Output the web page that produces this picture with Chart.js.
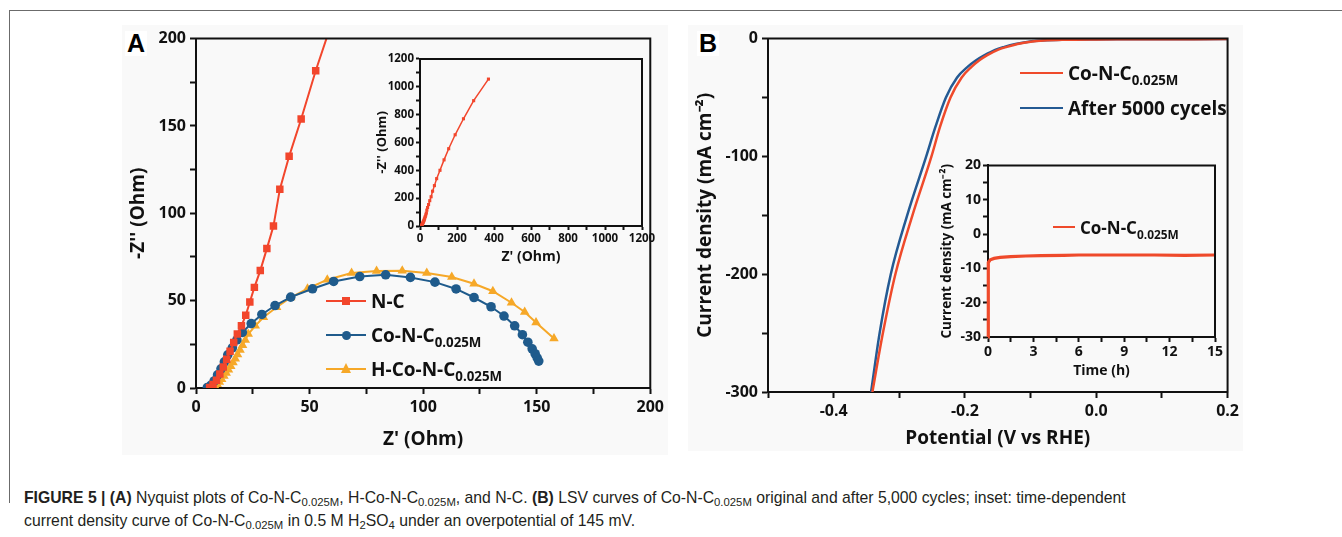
<!DOCTYPE html>
<html><head><meta charset="utf-8">
<script src="https://cdn.jsdelivr.net/npm/chart.js@4.4.1/dist/chart.umd.min.js"></script>
<style>
html,body{margin:0;padding:0;background:#fff;}
body{width:1342px;height:537px;position:relative;overflow:hidden;font-family:'Open Sans',sans-serif;}
.abs{position:absolute;}
canvas{position:absolute;}
.frameT{left:9px;top:10px;width:1333px;height:0;border-top:1.5px solid #6b6b6b;}
.frameL{left:9px;top:10px;width:0;height:493px;border-left:1.5px solid #6b6b6b;}
.panel{background:#f9f9f9;}
.lbl{font-family:'Liberation Sans',Arial,sans-serif;font-weight:bold;font-size:25px;color:#000;line-height:1;}
.row{position:absolute;height:0;display:flex;align-items:center;white-space:nowrap;}
.row .txt{font-weight:bold;color:#111;line-height:1;}
.row .txt sub{font-size:0.7em;vertical-align:-0.4em;line-height:0;}
.sym{position:relative;height:0;}
.sym .ln{position:absolute;left:0;top:-1px;height:2px;width:100%;}
.sym .mk{position:absolute;}
#cap{left:24px;top:486px;font-family:'Liberation Sans',Arial,sans-serif;font-size:15.75px;line-height:23px;color:#231f20;white-space:nowrap;}
#cap sub{font-size:0.72em;vertical-align:-0.25em;line-height:0;}
</style>
</head>
<body>
<div class="abs frameT"></div>
<div class="abs frameL"></div>
<div class="abs panel" style="left:122px;top:25px;width:546px;height:430px;"></div>
<div class="abs panel" style="left:688px;top:25px;width:555px;height:426px;"></div>
<div class="abs lbl" style="left:125px;top:31px;background:#fff;padding:0 2px;">A</div>
<div class="abs lbl" style="left:697px;top:31px;background:#fff;padding:0 2px;">B</div>

<canvas id="cA"></canvas>
<canvas id="cAi"></canvas>
<canvas id="cB"></canvas>
<canvas id="cBi"></canvas>

<div id="legA"></div>
<div id="legB"></div>

<div id="cap" class="abs"><b>FIGURE 5 | (A)</b> Nyquist plots of Co-N-C<sub>0.025M</sub>, H-Co-N-C<sub>0.025M</sub>, and N-C. <b>(B)</b> LSV curves of Co-N-C<sub>0.025M</sub> original and after 5,000 cycles; inset: time-dependent<br>current density curve of Co-N-C<sub>0.025M</sub> in 0.5 M H<sub>2</sub>SO<sub>4</sub> under an overpotential of 145 mV.</div>

<script>
// ---------------- DATA ----------------
// Panel A: Nyquist plots (Z' / -Z'' in Ohm)
const ncZre  = [6,7.5,9,10.5,12,13.5,15,16.6,18.2,20,21.9,23.7,25.7,28.3,31.2,34.1,36.9,41,46.3,52.7,60,68,78,90,108,130,155,190,235,290,370];
const ncZim  = [0.3,2,4.5,8,12,16.5,21,26,30.9,35.6,41.6,49.2,57.6,67.2,79.8,92.7,113.7,132.6,154,181.6,210,250,290,340,400,475,555,655,770,900,1055];
const coZre  = [5,6.5,8,9.5,11,12.5,14,16,18,20.4,24.3,29,34.8,41.7,51.3,60.6,72.1,83.5,94.4,105.2,114.5,122.4,129.9,135.6,140.3,143.7,146.1,148,149.3,150.2,150.9];
const coZim  = [0.3,1.5,4,7.5,11,15,19,23,27.5,31.8,36.9,42.1,47.2,52,56.8,61,63.8,64.8,63.3,60.6,56.7,51.8,46.5,41.2,35.6,30.5,26.2,22.4,19.6,17.3,15.4];
const hcoZre = [5.5,7,8.3,9.3,10.3,11.3,12.3,13.3,14.3,15.3,16.3,17.3,18.3,19.4,20.5,21.7,23,26.1,29.7,35.5,41.7,49.1,57.8,68.5,79.5,90.8,101.6,112.6,122.4,130.7,138.9,144.7,149.7,157.6];
const hcoZim = [0.3,0.6,1.2,2.2,3.5,5,6.8,8.6,10.5,12.5,14.6,16.8,19.2,21.8,24.5,27.5,30.9,35.6,40.5,46.2,51.8,56.8,62,65.8,67,67.1,65.8,63.5,59.7,55.4,48.8,43.5,37.5,28.4];
const seriesA = ['N-C', 'Co-N-C<sub>0.025M</sub>', 'H-Co-N-C<sub>0.025M</sub>'];

// Panel B: LSV curves (V vs RHE / mA cm-2)
const lsvV  = [-0.341,-0.325,-0.306,-0.280,-0.251,-0.238,-0.222,-0.205,-0.190,-0.178,-0.166,-0.150,-0.136,-0.120,-0.100,-0.080,-0.050,0.0,0.05,0.10,0.15,0.20];
const lsvJ  = [-300,-250,-200,-150,-100,-75,-50,-33,-24,-18.4,-14,-9.5,-7,-4.6,-2.6,-1.6,-1.0,-0.7,-0.6,-0.5,-0.45,-0.4];
const cycV  = [-0.343,-0.330,-0.313,-0.288,-0.259,-0.245,-0.229,-0.212,-0.196,-0.183,-0.170,-0.154,-0.140,-0.123,-0.103,-0.082,-0.050,0.0,0.05,0.10,0.15,0.20];
const cycJ  = [-300,-250,-200,-150,-100,-75,-50,-33,-24,-18.4,-14,-9.5,-7,-4.6,-2.6,-1.6,-1.0,-0.7,-0.6,-0.5,-0.45,-0.4];
const seriesB = ['Co-N-C<sub>0.025M</sub>', 'After 5000 cycels'];

// Inset B: chronoamperometry (h / mA cm-2)
const timeH = [0,0.02,0.15,0.4,0.8,1.5,2.5,3.5,5,6,7,9,11,13,15];
const stabJ = [-30,-8.3,-7.5,-7.1,-6.8,-6.6,-6.4,-6.3,-6.2,-6.1,-6.1,-6.1,-6.1,-6.2,-6.1];

// Tick labels
const aXLabels  = ['0','50','100','150','200'];
const aYLabels  = ['0','50','100','150','200'];
const aiLabels  = ['0','200','400','600','800','1000','1200'];
const bXLabels  = ['-0.4','-0.2','0.0','0.2'];
const bYLabels  = ['-300','-200','-100','0'];
const biXLabels = ['0','3','6','9','12','15'];
const biYLabels = ['-30','-20','-10','0','10','20'];

// ---------------- HELPERS ----------------
Chart.defaults.font.family = "'Open Sans', sans-serif";
Chart.defaults.font.weight = 'bold';
const INK = '#111';
const C_RED = '#f2462c', C_BLUE = '#1f5b8c', C_YEL = '#f6a828', C_LRED = '#ef4a2b', C_LBLUE = '#245a93';
const strip = s => s.replace(/<[^>]+>/g,'');
const pts = (xs, ys) => xs.map((x,i)=>({x, y:ys[i]}));
const fmtInt = v => String(Math.round(v));
const fmt1 = v => (Math.round(v*10)/10).toFixed(1);
const fmtG = v => String(Math.round(v*10)/10);

const framePlugin = {id:'frame', afterDraw(c){
  const {ctx, chartArea:a} = c;
  ctx.save(); ctx.strokeStyle = INK; ctx.lineWidth = 2;
  ctx.beginPath(); ctx.moveTo(a.left-1, a.top); ctx.lineTo(a.right, a.top); ctx.lineTo(a.right, a.bottom+1); ctx.stroke();
  ctx.restore();
}};

function axisCfg(a, horiz, size){
  return {
    type:'linear', position: horiz ? 'bottom' : 'left', min:a.min, max:a.max,
    afterFit(s){ if (horiz) s.height = size; else s.width = size; },
    ticks:{stepSize:a.step, autoSkip:false, maxRotation:0, minRotation:0, padding:a.pad, color:INK,
      font:{size:a.font, weight:'bold'},
      callback(v){ const t = a.fmt(v); return a.labels.includes(t) ? t : ''; }},
    grid:{drawOnChartArea:false, drawTicks:true, tickLength:a.tl || 6, tickWidth:2, tickColor:INK},
    border:{display:true, color:INK, width:2},
    title:{display:true, text:a.title, color:INK, font:{size:a.tfont, weight:'bold'},
      padding: horiz ? {top:0, bottom:a.tpad} : {top:a.tpad, bottom:0}}
  };
}

function build(id, box, area, xa, ya, datasets){
  const cv = document.getElementById(id);
  cv.width = box.w; cv.height = box.h;
  cv.style.left = box.x + 'px'; cv.style.top = box.y + 'px';
  cv.style.width = box.w + 'px'; cv.style.height = box.h + 'px';
  return new Chart(cv, {
    type:'scatter',
    data:{datasets},
    options:{
      responsive:false, animation:false, devicePixelRatio:1,
      layout:{padding:{top:area.t-box.y, right:box.x+box.w-area.r, left:0, bottom:0}},
      plugins:{legend:{display:false}, tooltip:{enabled:false}},
      scales:{x:axisCfg(xa, true, box.y+box.h-area.b), y:axisCfg(ya, false, area.l-box.x)}
    },
    plugins:[framePlugin]
  });
}

// ---------------- PANEL A ----------------
build('cA', {x:122,y:25,w:546,h:430}, {l:196,t:35,r:659,b:388},
  {min:0,max:200,step:25,labels:aXLabels,fmt:fmtInt,font:16,pad:4,title:"Z' (Ohm)",tfont:19,tpad:4},
  {min:0,max:200,step:25,labels:aYLabels,fmt:fmtInt,font:16,pad:4,title:"-Z'' (Ohm)",tfont:19,tpad:5},
  [
    {label:strip(seriesA[0]), data:pts(ncZre,ncZim), showLine:true, borderColor:C_RED, backgroundColor:C_RED, borderWidth:2, pointStyle:'rect', pointRadius:5.3, pointBorderWidth:0},
    {label:strip(seriesA[1]), data:pts(coZre,coZim), showLine:true, borderColor:C_BLUE, backgroundColor:C_BLUE, borderWidth:2, pointStyle:'circle', pointRadius:4.8, pointBorderWidth:0},
    {label:strip(seriesA[2]), data:pts(hcoZre,hcoZim), showLine:true, borderColor:C_YEL, backgroundColor:C_YEL, borderWidth:2, pointStyle:'triangle', pointRadius:5.5, pointBorderWidth:0}
  ]);

build('cAi', {x:370,y:50,w:290,h:218}, {l:420,t:57,r:642,b:226},
  {min:0,max:1200,step:100,labels:aiLabels,fmt:fmtInt,font:11.5,pad:2,tl:4,title:"Z' (Ohm)",tfont:14,tpad:3},
  {min:0,max:1200,step:100,labels:aiLabels,fmt:fmtInt,font:11.5,pad:2,tl:4,title:"-Z'' (Ohm)",tfont:13,tpad:4},
  [
    {label:strip(seriesA[0]), data:pts(ncZre,ncZim), showLine:true, borderColor:C_RED, backgroundColor:C_RED, borderWidth:1.5, pointStyle:'rect', pointRadius:2.2, pointBorderWidth:0}
  ]);

// ---------------- PANEL B ----------------
build('cB', {x:688,y:25,w:555,h:430}, {l:768,t:37,r:1233,b:392},
  {min:-0.5,max:0.2,step:0.1,labels:bXLabels,fmt:fmt1,font:16,pad:4,title:"Potential (V vs RHE)",tfont:19,tpad:5},
  {min:-300,max:0,step:50,labels:bYLabels,fmt:fmtInt,font:16,pad:4,title:"Current density (mA cm\u207B\u00B2)",tfont:19,tpad:6},
  [
    {label:strip(seriesB[0]), data:pts(lsvV,lsvJ), showLine:true, borderColor:C_LRED, borderWidth:2.5, pointRadius:0, cubicInterpolationMode:'monotone'},
    {label:strip(seriesB[1]), data:pts(cycV,cycJ), showLine:true, borderColor:C_LBLUE, borderWidth:2.5, pointRadius:0, cubicInterpolationMode:'monotone'}
  ]);

build('cBi', {x:930,y:155,w:300,h:230}, {l:988,t:165,r:1215,b:337},
  {min:0,max:15,step:1.5,labels:biXLabels,fmt:fmtG,font:14,pad:2,tl:5,title:"Time (h)",tfont:14,tpad:6},
  {min:-30,max:20,step:5,labels:biYLabels,fmt:fmtInt,font:14,pad:2,tl:5,title:"Current density (mA cm\u207B\u00B2)",tfont:13.5,tpad:9},
  [
    {label:strip(seriesB[0]), data:pts(timeH,stabJ), showLine:true, borderColor:C_LRED, borderWidth:3.2, pointRadius:0, clip:4}
  ]);

// ---------------- LEGENDS (HTML text) ----------------
function legendRow(parent, x, y, lineW, color, marker, html, fontSize){
  const row = document.createElement('div');
  row.className = 'row'; row.style.left = x + 'px'; row.style.top = y + 'px';
  const sym = document.createElement('div'); sym.className = 'sym'; sym.style.width = lineW + 'px';
  const ln = document.createElement('div'); ln.className = 'ln'; ln.style.background = color; sym.appendChild(ln);
  if (marker){
    const mk = document.createElement('div'); mk.className = 'mk';
    const c = lineW/2;
    if (marker === 'rect'){ Object.assign(mk.style,{left:(c-4)+'px',top:'-4px',width:'8px',height:'8px',background:color}); }
    if (marker === 'circle'){ Object.assign(mk.style,{left:(c-4.5)+'px',top:'-4.5px',width:'9px',height:'9px',borderRadius:'50%',background:color}); }
    if (marker === 'triangle'){ Object.assign(mk.style,{left:(c-5.5)+'px',top:'-6px',width:0,height:0,borderLeft:'5.5px solid transparent',borderRight:'5.5px solid transparent',borderBottom:'10px solid '+color}); }
    sym.appendChild(mk);
  }
  const tx = document.createElement('span'); tx.className = 'txt'; tx.style.fontSize = fontSize + 'px';
  tx.style.marginLeft = '5px'; tx.innerHTML = html;
  row.appendChild(sym); row.appendChild(tx);
  parent.appendChild(row);
}
const legA = document.getElementById('legA');
legendRow(legA, 326, 301, 40, C_RED, 'rect', seriesA[0], 19);
legendRow(legA, 326, 335, 40, C_BLUE, 'circle', seriesA[1], 19);
legendRow(legA, 326, 369, 40, C_YEL, 'triangle', seriesA[2], 19);
const legB = document.getElementById('legB');
legendRow(legB, 1020, 73, 43, C_LRED, null, seriesB[0], 19);
legendRow(legB, 1020, 108, 43, C_LBLUE, null, seriesB[1], 19);
legendRow(legB, 1053, 227, 22, C_LRED, null, seriesB[0], 17);
</script>
</body></html>
